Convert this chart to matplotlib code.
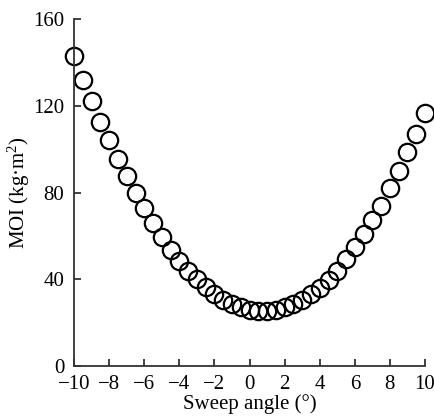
import matplotlib
matplotlib.use("Agg")
import matplotlib.pyplot as plt

sweep_angle = [-10, -9.5, -9, -8.5, -8, -7.5, -7, -6.5, -6, -5.5, -5, -4.5, -4,
               -3.5, -3, -2.5, -2, -1.5, -1, -0.5, 0, 0.5, 1, 1.5, 2, 2.5, 3,
               3.5, 4, 4.5, 5, 5.5, 6, 6.5, 7, 7.5, 8, 8.5, 9, 9.5, 10]
moi = [143, 132, 122, 112.5, 104, 95.5, 87.5, 80, 73, 66, 59.5, 53.5, 48.5,
       44, 40, 36.5, 33, 30.5, 28.5, 27, 26, 25.5, 25.5, 26, 27, 28.5, 30.5,
       33, 36, 39.5, 44, 49.5, 55, 61, 67.5, 74, 82, 90, 98.5, 107, 116.5]

x_ticks = [-10, -8, -6, -4, -2, 0, 2, 4, 6, 8, 10]
y_ticks = [0, 40, 80, 120, 160]

plt.rcParams["font.family"] = ["Liberation Serif", "DejaVu Serif"]
plt.rcParams["mathtext.fontset"] = "custom"
plt.rcParams["mathtext.rm"] = "Liberation Serif"

fig = plt.figure(figsize=(4.35, 4.19), dpi=100)
ax = fig.add_axes([0.1705, 0.1265, 0.8065, 0.828])

ax.plot(sweep_angle, moi, linestyle="none", marker="o", markersize=12.5,
        markerfacecolor="none", markeredgecolor="black", markeredgewidth=1.6,
        clip_on=False)

ax.set_xlim(-10, 10)
ax.set_ylim(0, 160)
ax.set_xticks(x_ticks)
ax.set_yticks(y_ticks)
ax.set_xticklabels([str(t).replace("-", "\u2212") for t in x_ticks])

for side in ["top", "right"]:
    ax.spines[side].set_visible(False)
for side in ["left", "bottom"]:
    ax.spines[side].set_color("#333333")
    ax.spines[side].set_linewidth(1.3)

ax.tick_params(direction="in", length=5, width=1.3, color="#333333",
               labelsize=15)
ax.tick_params(axis="x", pad=6.5)
ax.tick_params(axis="y", pad=7)

ax.set_xlabel("Sweep angle (°)", fontsize=15, labelpad=0)
ax.set_ylabel("MOI (kg·m$\\mathrm{^2}$)", fontsize=15, labelpad=1)

fig.savefig("out.png", dpi=100)
